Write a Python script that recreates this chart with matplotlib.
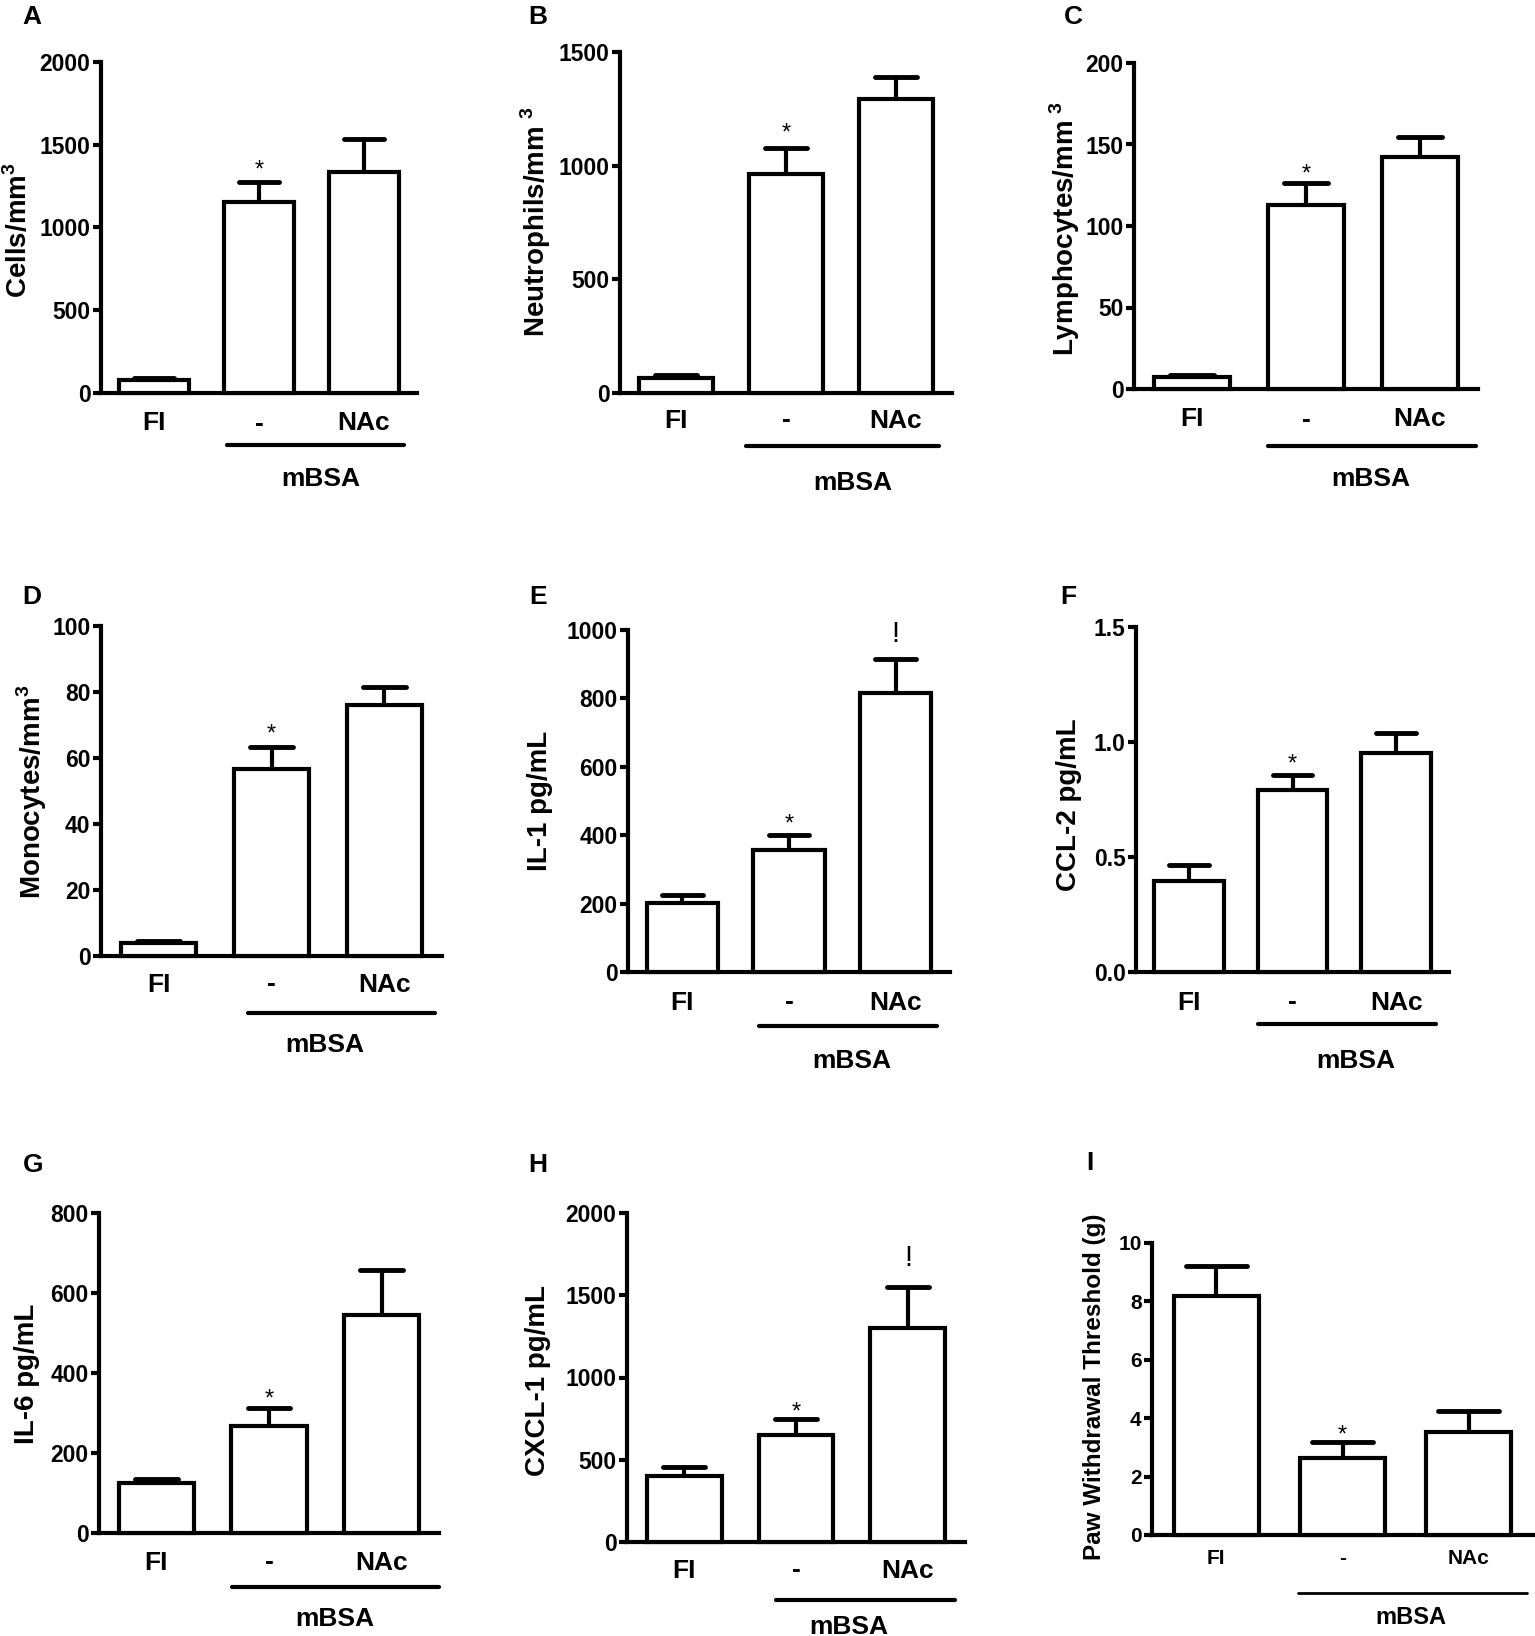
import numpy as np
import matplotlib
matplotlib.use("Agg")
import matplotlib.pyplot as plt
from matplotlib.ticker import FormatStrFormatter

plt.rcParams['font.family'] = ['Liberation Sans', 'DejaVu Sans']
plt.rcParams['font.weight'] = 'bold'

W, H = 1535, 1636

# ---- data ----
groups = ['FI', '-', 'NAc']

letters = ['A', 'B', 'C', 'D', 'E', 'F', 'G', 'H', 'I']
ylabels = ['Cells/mm$^\\mathregular{3}$',
           'Neutrophils/mm$^{\\ \\mathregular{3}}$',
           'Lymphocytes/mm$^{\\ \\mathregular{3}}$',
           'Monocytes/mm$^\\mathregular{3}$',
           'IL-1 pg/mL',
           'CCL-2 pg/mL',
           'IL-6 pg/mL',
           'CXCL-1 pg/mL',
           'Paw Withdrawal Threshold (g)']
ymax = [2000, 1500, 200, 100, 1000, 1.5, 800, 2000, 10]
ystep = [500, 500, 50, 20, 200, 0.5, 200, 500, 2]

cells_mean = [76, 1154, 1335]
cells_sem = [14, 121, 202]
neutro_mean = [66, 962, 1292]
neutro_sem = [12, 117, 98]
lympho_mean = [7.2, 112.7, 142.1]
lympho_sem = [1.6, 13.7, 12.5]
mono_mean = [3.8, 56.7, 76.1]
mono_sem = [0.8, 6.7, 5.5]
il1_mean = [202, 358, 817]
il1_sem = [22, 42, 97]
ccl2_mean = [0.394, 0.79, 0.951]
ccl2_sem = [0.07, 0.065, 0.09]
il6_mean = [126, 267, 544]
il6_sem = [10, 46, 114]
cxcl1_mean = [400, 648, 1303]
cxcl1_sem = [56, 102, 247]
paw_mean = [8.17, 2.63, 3.54]
paw_sem = [1.05, 0.57, 0.69]

means = [cells_mean, neutro_mean, lympho_mean, mono_mean, il1_mean,
         ccl2_mean, il6_mean, cxcl1_mean, paw_mean]
sems = [cells_sem, neutro_sem, lympho_sem, mono_sem, il1_sem,
        ccl2_sem, il6_sem, cxcl1_sem, paw_sem]
# significance marks: (group index, symbol)
marks = [[(1, '*')], [(1, '*')], [(1, '*')], [(1, '*')], [(1, '*'), (2, '!')],
         [(1, '*')], [(1, '*')], [(1, '*'), (2, '!')], [(1, '*')]]

# ---- layout in pixels ----
# axes: left, right, top, bottom
rects = [(101, 417, 62, 393), (620, 952, 52, 393), (1134, 1478, 63, 389),
         (101, 442, 626, 956), (628, 950, 630, 972), (1136, 1449, 627, 972),
         (99, 439, 1213, 1533), (627, 965, 1213, 1542), (1152, 1533, 1243, 1535)]
letter_pos = [(32, 15), (538, 15), (1073, 15), (32, 594), (538, 595),
              (1068, 594), (33, 1163), (538, 1162), (1090, 1160)]
ylab_pos = [(18, 230), (536, 222), (1065, 228), (32, 792), (540, 801),
            (1069, 805), (27, 1374), (538, 1380), (1094, 1387)]
xlab_y = [421, 418, 417, 982, 1000, 1000, 1560, 1568, 1557]
line_y = [445, 446, 446, 1013, 1026, 1024, 1587, 1600, 1593]
line_x = [(0.69, 2.39), (0.64, 2.39), (0.67, 2.49), (0.79, 2.45), (0.72, 2.39),
          (0.67, 2.38), (0.67, 2.51), (0.82, 2.42), (0.65, 2.46)]
mbsa_y = [477, 480, 477, 1042, 1058, 1058, 1617, 1624, 1615]
mbsa_x = [1.59, 1.61, 1.57, 1.47, 1.59, 1.61, 1.58, 1.47, 1.54]
star_y = [163, 126, 167, 727, 817, 757, 1392, 1405, 1428]
bang_y = {4: 642, 7: 1266}

fig = plt.figure(figsize=(W / 100, H / 100), dpi=100)


def fy(y):
    return 1 - y / H


def put(ax, rect, x, ypx, s, size, weight='bold'):
    # x in data units, ypx = visual centre of capitals in pixels
    l, r, top, bot = rect
    base = ypx + 0.36 * size * 100 / 72
    ax.text(x, (bot - base) / (bot - top), s, fontsize=size, fontweight=weight,
            ha='center', va='baseline', transform=ax.get_xaxis_transform(),
            clip_on=False)


for i in range(9):
    l, r, top, bot = rects[i]
    ax = fig.add_axes([l / W, fy(bot), (r - l) / W, (bot - top) / H])
    small = (i == 8)
    lw = 3
    x = np.arange(3)
    m = np.array(means[i])
    e = np.array(sems[i])
    ax.vlines(x, m, m + e, color='black', lw=lw, zorder=2)
    cap = 0.24 if small else 0.19
    hl = ax.hlines(m + e, x - cap, x + cap, color='black', lw=lw + 0.5, zorder=2)
    hl.set_capstyle('round')
    ax.bar(x, m, width=0.67, color='white', edgecolor='black', linewidth=lw,
           zorder=3, clip_on=False)

    ax.set_xlim(-0.51, 2.51)
    ax.set_ylim(0, ymax[i])
    ax.set_yticks(np.arange(0, ymax[i] + ystep[i] / 2, ystep[i]))
    if i == 5:
        ax.yaxis.set_major_formatter(FormatStrFormatter('%.1f'))
    ax.set_xticks([])
    for s in ['top', 'right']:
        ax.spines[s].set_visible(False)
    for s in ['left', 'bottom']:
        ax.spines[s].set_linewidth(lw)
    ax.tick_params(axis='y', direction='out', length=6, width=lw, pad=1.5,
                   labelsize=15 if small else 16.5)

    # group labels
    gsize = 15 if small else 19
    for k, g in enumerate(groups):
        put(ax, rects[i], k, xlab_y[i], g, gsize)
    # mBSA bracket line
    ly = (bot - line_y[i]) / (bot - top)
    ax.plot(line_x[i], [ly, ly], color='black', lw=2 if small else 3,
            solid_capstyle='round', transform=ax.get_xaxis_transform(), clip_on=False)
    put(ax, rects[i], mbsa_x[i], mbsa_y[i], 'mBSA', 17 if small else 19)

    # significance symbols
    for k, sym in marks[i]:
        if sym == '*':
            size = 17
            base = star_y[i] + 0.575 * size * 100 / 72
        else:
            size = 21
            base = bang_y[i]
        ax.text(k, (bot - base) / (bot - top), sym, fontsize=size, fontweight='normal',
                ha='center', va='baseline', transform=ax.get_xaxis_transform(),
                clip_on=False)

    # y label and panel letter
    yx, yy = ylab_pos[i]
    fig.text(yx / W, fy(yy), ylabels[i], rotation=90, ha='center', va='center',
             fontsize=17.5 if small else 20, fontweight='bold')
    lx, lyp = letter_pos[i]
    fig.text(lx / W, fy(lyp + 0.36 * 19 * 100 / 72), letters[i], ha='center',
             va='baseline', fontsize=19, fontweight='bold')

fig.savefig('out.png', dpi=100)
